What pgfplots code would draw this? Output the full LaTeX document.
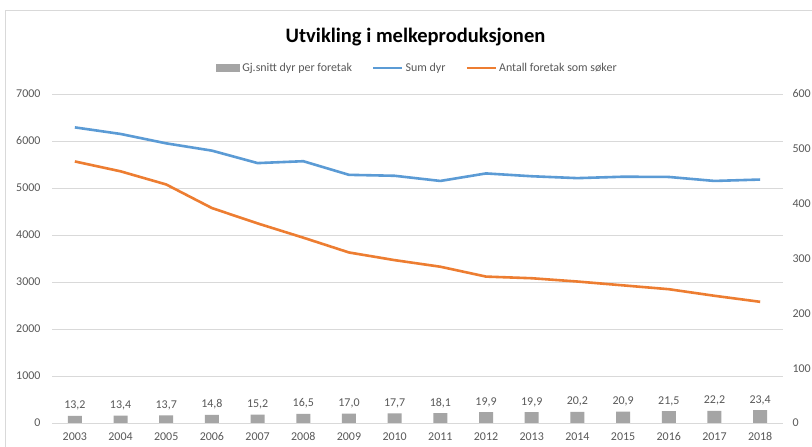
\documentclass[border=0pt]{standalone}
\usepackage{pgfplots}
\pgfplotsset{compat=1.18}
\usepackage{fontspec}
\setmainfont{Carlito}
\definecolor{cBlue}{HTML}{5B9BD5}
\definecolor{cOrange}{HTML}{ED7D31}
\definecolor{cBar}{HTML}{A5A5A5}
\definecolor{cGrid}{HTML}{D9D9D9}
\definecolor{cText}{HTML}{595959}
\pgfplotsset{
  base/.style={
    at={(52bp,24bp)}, anchor=south west,
    width=731bp, height=329bp, scale only axis,
    xmin=-0.5, xmax=15.5,
    /pgf/number format/assume math mode=true,
    /pgf/number format/1000 sep={},
    tick label style={font=\fontsize{12}{14}\selectfont, text=cText},
    major tick length=0pt,
    axis line style={draw=none},
  },
  linelegend/.style={legend image code/.code={\draw[##1] (0bp,0bp) -- (29bp,0bp);}},
  barlegend/.style={legend image code/.code={\fill[cBar] (0bp,-4bp) rectangle (24bp,4bp);}},
}
\begin{document}
\begin{tikzpicture}
\path[use as bounding box] (0,0) rectangle (812bp,447bp);
\clip (0,0) rectangle (812bp,447bp);
\fill[white] (0,0) rectangle (812bp,447bp);
\draw[cGrid, line width=1bp] (5bp,-20bp) -- (5bp,436bp) -- (840bp,436bp);
\node[font=\fontsize{20.6}{24}\selectfont\bfseries, text=black] at (415.5bp,410bp) {Utvikling i melkeproduksjonen};

\begin{axis}[base,
  ymin=0, ymax=7000, ytick={0,1000,...,7000},
  ymajorgrids, grid style={cGrid, line width=0.8bp},
  xtick={0,...,15},
  xticklabels={2003,2004,2005,2006,2007,2008,2009,2010,2011,2012,2013,2014,2015,2016,2017,2018},
  xticklabel style={yshift=-6bp},
  yticklabel style={xshift=-8bp},
]
\addplot[cBlue, line width=2.6bp, line join=round] coordinates {
(0,6290) (1,6150) (2,5950) (3,5795) (4,5530) (5,5570) (6,5280) (7,5260)
(8,5150) (9,5310) (10,5250) (11,5210) (12,5240) (13,5235) (14,5150) (15,5180)
};
\end{axis}

\begin{axis}[base,
  ymin=0, ymax=600, ytick={0,100,...,600},
  axis y line*=right, axis x line=none,
  yticklabel style={xshift=6bp},
  legend columns=3,
  legend style={at={(0.5,1.079)}, anchor=center, draw=none, fill=none,
    font=\fontsize{12}{14}\selectfont, text=cText,
    /tikz/every even column/.append style={column sep=18bp}},
]
\addplot[ybar, bar width=14bp, fill=cBar, draw=none, barlegend,
  nodes near coords={\pgfmathprintnumber[fixed,fixed zerofill,precision=1,use comma,assume math mode=true]{\pgfplotspointmeta}},
  every node near coord/.append style={font=\fontsize{12}{14}\selectfont, text=cText, yshift=2bp},
] coordinates {
(0,13.2) (1,13.4) (2,13.7) (3,14.8) (4,15.2) (5,16.5) (6,17.0) (7,17.7)
(8,18.1) (9,19.9) (10,19.9) (11,20.2) (12,20.9) (13,21.5) (14,22.2) (15,23.4)
};
\addlegendentry{Gj.snitt dyr per foretak}
\addlegendimage{cBlue, line width=2.6bp, linelegend}
\addlegendentry{Sum dyr}
\addplot[cOrange, line width=2.6bp, line join=round, linelegend] coordinates {
(0,477) (1,459) (2,435) (3,392) (4,364) (5,338) (6,311) (7,297)
(8,285) (9,267) (10,264) (11,258) (12,251) (13,244) (14,232) (15,221)
};
\addlegendentry{Antall foretak som søker}
\end{axis}
\end{tikzpicture}
\end{document}
